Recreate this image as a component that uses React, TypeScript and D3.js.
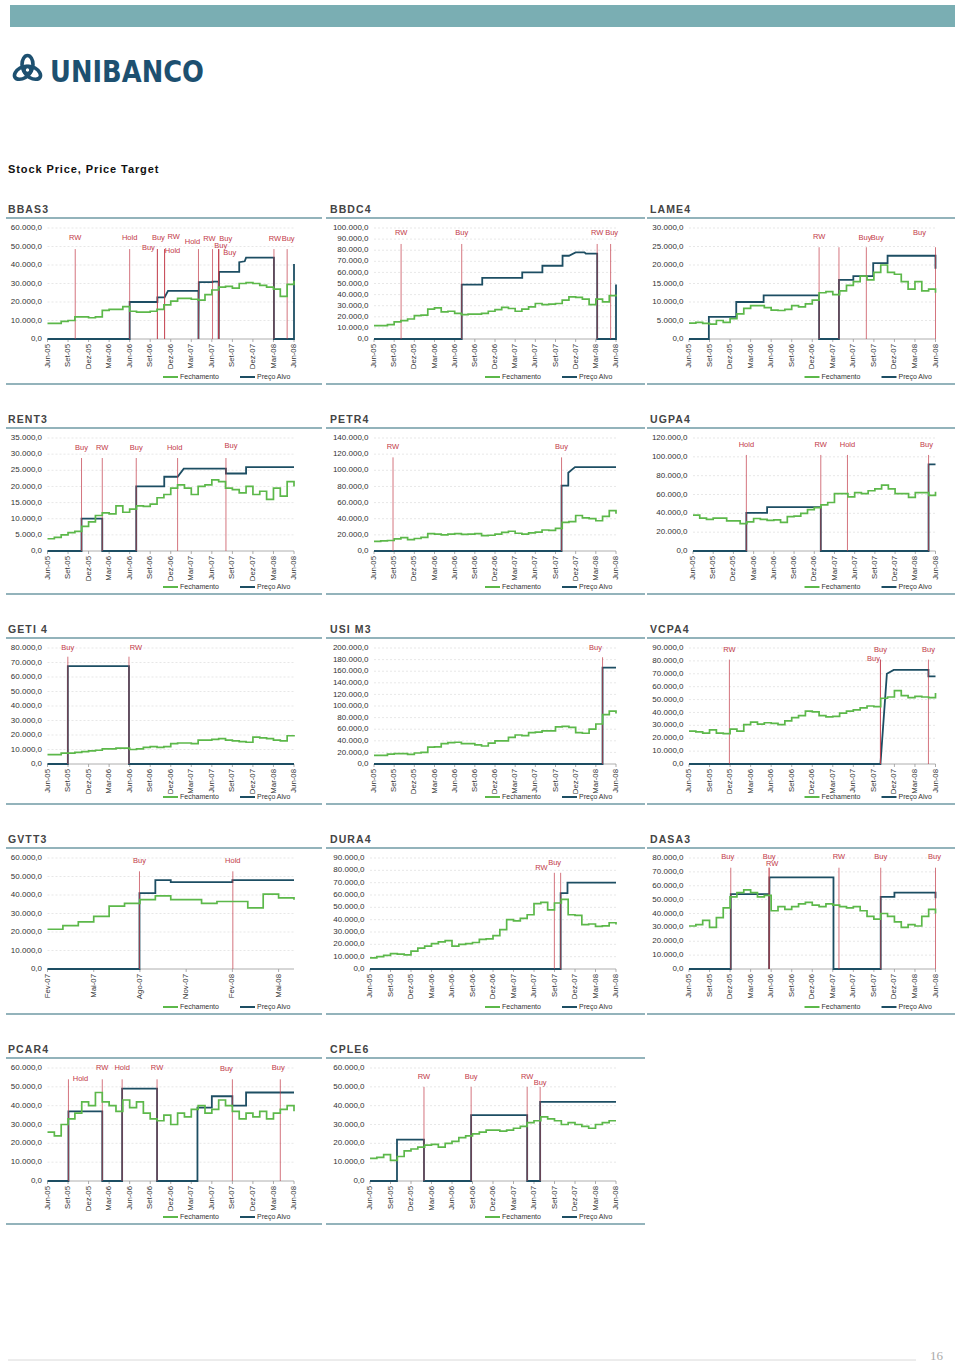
import React from "react";
import * as d3 from "d3";

// ---------- axis tick labels ----------
const QUARTER_TICKS = ["Jun-05","Set-05","Dez-05","Mar-06","Jun-06","Set-06","Dez-06","Mar-07","Jun-07","Set-07","Dez-07","Mar-08","Jun-08"];
const GVTT_TICKS = ["Fev-07","Mai-07","Ago-07","Nov-07","Fev-08","Mai-08"];
const LEGEND = ["Fechamento", "Preço Alvo"];

// ---------- data (values in thousands, month index from first tick) ----------
const bbas3Close = [8.5,8.5,9.5,10,12,12,11.5,12,15.5,16,16,17.5,15,14.5,14.5,15,16,18.5,20.5,22,22,21.5,21,24,26.5,28,28.5,27.5,30,30.5,30,29,28,27,23,29.5,31.5];
const bbas3Target = [[0,0],[12,0],[12,20],[16.05,20],[16.05,22.5],[17.1,22.5],[17.6,26],[22.05,26],[22.05,0],[22.1,30.7],[24.1,30.7],[24.1,31],[25,31],[25,0],[25.05,36.3],[28,36.3],[28,41.5],[28.8,42],[29,44],[33.07,44],[33.07,0],[36,0],[36,40.5]];
const bbas3Events = [
  { m: 4.05, label: "RW", dx: 0, dy: -11 },
  { m: 12, label: "Hold", dx: 0, dy: -11 },
  { m: 16.05, label: "Buy", dx: 1, dy: -11 },
  { m: 16.05, label: "Buy", dx: -9, dy: -1 },
  { m: 17.1, label: "RW", dx: 9, dy: -12 },
  { m: 17.1, label: "Hold", dx: 8, dy: 1.5 },
  { m: 22.05, label: "Hold", dx: -6, dy: -7.5 },
  { m: 24.1, label: "RW", dx: -3, dy: -10 },
  { m: 25, label: "Buy", dx: 7, dy: -10 },
  { m: 25, label: "Buy", dx: 2, dy: -2.7 },
  { m: 25, label: "Buy", dx: 11, dy: 4 },
  { m: 33.07, label: "RW", dx: 1, dy: -10 },
  { m: 35, label: "Buy", dx: 1, dy: -10 },
];

const bbdc4Close = [12,12,13,15.5,16.5,18,21,21.5,27,28,24.5,25,23,22,22.5,22.5,23,25,26.5,28.5,27.5,25,27,29,32,31,31.5,32,35,38,37.5,36,31,36,33.5,39,40];
const bbdc4Target = [[0,0],[13.05,0],[13.05,49],[16.1,49],[16.1,55],[22.05,55],[22.05,60],[25.05,60],[25.05,66],[28.05,66],[28.05,75],[29,75],[30,78],[31.3,78],[31.5,77],[33.2,77],[33.2,0],[36,0],[36,49]];
const bbdc4Events = [
  { m: 4.03, label: "RW", dx: 0, dy: -11 },
  { m: 13.05, label: "Buy", dx: 0, dy: -11 },
  { m: 33.2, label: "RW", dx: 0, dy: -11 },
  { m: 35.2, label: "Buy", dx: 1, dy: -11 },
];

const lame4Close = [4.3,4.5,4.2,4.0,5.0,4.5,5.5,6.8,8.3,9,9,8.5,7.8,7.7,8,9,8.7,9.5,10.5,12.5,12.8,12,13,14.5,15.5,17,16,18,20,18,17.5,15.5,13.5,15.5,13,13.5,12.5];
const lame4Target = [[0,0],[2.9,0],[2.9,6],[6.9,6],[6.9,10],[10.9,10],[10.9,11.8],[19,11.8],[19,0],[21.9,0],[21.9,16],[24,16],[24,17],[26.9,17],[26.9,20.5],[29,20.5],[29,22.5],[36,22.5],[36,19]];
const lame4Events = [
  { m: 19, label: "RW", dx: 0, dy: -10 },
  { m: 21.9, label: "Buy", dx: 26, dy: -9 },
  { m: 25.9, label: "Buy", dx: 11, dy: -9 },
  { m: 36, label: "Buy", dx: -16, dy: -14 },
];

const rent3Close = [3.8,4.2,5,5.7,6.1,7.6,9,11,11.8,11.5,14,12,13,14,13.8,14.5,16.5,17.5,19.5,20.5,19.5,17.5,20,20.5,22,21.5,19.5,19,18,20,17.5,18.5,16,19.5,17,21.5,20];
const rent3Target = [[0,0],[4.97,0],[4.97,10],[8,10],[8,0],[12.96,0],[12.96,20],[17.05,20],[17.05,23],[19,23],[19.9,25.5],[26.06,25.5],[26.06,24],[29,24],[29,26],[36,26]];
const rent3Events = [
  { m: 4.97, label: "Buy", dx: 0, dy: -10 },
  { m: 8, label: "RW", dx: 0, dy: -10 },
  { m: 12.96, label: "Buy", dx: 0, dy: -10 },
  { m: 19, label: "Hold", dx: -3, dy: -10 },
  { m: 26.06, label: "Buy", dx: 5, dy: -12 },
];

const petr4Close = [12,12.5,13,15,16.5,14,15.5,17,21.5,21,20,21,21.5,20.5,21,21.5,19,19.5,21,23,24.5,22,21,22.5,23.5,26,25.5,28,35.5,36.5,44,41,40,37.5,43,50,46];
const petr4Target = [[0,0],[27.9,0],[27.9,81],[28.9,81],[28.9,97],[29.9,104],[36,104]];
const petr4Events = [
  { m: 2.83, label: "RW", dx: 0, dy: -10 },
  { m: 27.9, label: "Buy", dx: 0, dy: -10 },
];

const ugpa4Close = [38,35,33.5,35,35,32,32,29,31,34.5,33.5,32.5,33,30.5,36.5,37,40,44,46,49,51.5,61,61,57.5,62,61,64,66,70,66,61,61,57,62,62,59,63];
const ugpa4Target = [[0,0],[7.92,0],[7.92,40.5],[11,40.5],[11,46.5],[18.97,46.5],[18.97,0],[34.97,0],[34.97,92],[36,92]];
const ugpa4Events = [
  { m: 7.92, label: "Hold", dx: 0, dy: -10 },
  { m: 18.97, label: "RW", dx: 0, dy: -10 },
  { m: 22.93, label: "Hold", dx: 0, dy: -10 },
  { m: 34.97, label: "Buy", dx: -2, dy: -10 },
];

const geti4Close = [6.5,6.5,7.5,7.5,8,8.5,9,9.5,10.5,10.5,11,11,10,10.5,11.5,12,11.5,12,14,14.5,14.5,14,16.5,16.5,17,17.5,16.5,16,15.5,15,18.5,18,17.5,16.5,16,19.5,19];
const geti4Target = [[0,0],[2.97,0],[2.97,67.5],[11.9,67.5],[11.9,0],[36,0]];
const geti4Events = [
  { m: 2.97, label: "Buy", dx: 0, dy: -8.5 },
  { m: 11.9, label: "RW", dx: 7, dy: -8.5 },
];

const usim3Close = [15,15,17,18,18,16.5,19,20,29,29.5,35,37,37.5,35,35,33,31,36,40,40,46,50,49,54,55,57,57,64,65,63,54,53,60,69,85,91,87];
const usim3Target = [[0,0],[34,0],[34,166],[36,166]];
const usim3Events = [
  { m: 34, label: "Buy", dx: -7, dy: -9.5 },
];

const vcpa4Close = [25.5,25,24,26.5,24,23.5,27,25.5,30.5,32.5,31,32,31.5,30.5,33.5,36,37.5,41,40.5,37.5,36.5,37,39.5,41,42,43.5,45,44.5,51,52,57,53,51.5,52.5,52,51.5,55];
const vcpa4Target = [[0,0],[27.96,0],[28.9,70],[29.9,73],[34.97,73],[34.97,68],[36,68]];
const vcpa4Events = [
  { m: 5.9, label: "RW", dx: 0, dy: -10 },
  { m: 27.96, label: "Buy", dx: 0, dy: -10 },
  { m: 27.96, label: "Buy", dx: -7, dy: -0.5 },
  { m: 34.97, label: "Buy", dx: 0, dy: -10 },
];

const gvtt3Close = [21.5,23.5,25.5,28.5,34,35.5,37.5,39.5,37.5,37.5,35.5,36.5,36.5,33,40.5,38.5,37.5];
const gvtt3Target = [[0,0],[5.97,0],[5.97,41],[7,41],[7,48],[8,48],[8,47],[12,47],[12,48],[16,48]];
const gvtt3Events = [
  { m: 5.97, label: "Buy", dx: 0, dy: -10.5 },
  { m: 12.03, label: "Hold", dx: 0, dy: -10.5 },
];

const dura4Close = [9,10,11,12.5,12,11.5,14.5,17,18.5,20.5,22,23,18.5,20,20.5,21.5,24,24.5,27,32,40,39,41,44,53,54,48,53.5,56.5,44,43.5,36,36.5,34.5,35,37.5,36];
const dura4Target = [[0,0],[27.9,0],[27.9,61.5],[28.9,61.5],[28.9,70],[36,70]];
const dura4Events = [
  { m: 26.98, label: "RW", dx: -13, dy: -4.3 },
  { m: 27.9, label: "Buy", dx: -6, dy: -10 },
];

const dasa3Close = [31,32,35,30,37,44,52,55,57,55,52,53,42,45,43,45,47,48,46,45,47,46,45,44,45,42,38,36,40,38,34,30,32,31,38,43,40];
const dasa3Target = [[0,0],[6.1,0],[6.1,54],[11.7,54],[11.7,0],[11.75,66],[21.1,66],[21.1,0],[28,0],[28,52],[30,52],[30,55],[36,55],[36,51]];
const dasa3Events = [
  { m: 6.1, label: "Buy", dx: -3, dy: -11 },
  { m: 11.7, label: "Buy", dx: 0, dy: -11 },
  { m: 11.7, label: "RW", dx: 3, dy: -3.5 },
  { m: 21.9, label: "RW", dx: 0, dy: -11 },
  { m: 28, label: "Buy", dx: 0, dy: -11 },
  { m: 36, label: "Buy", dx: -1, dy: -11 },
];

const pcar4Close = [26,24,30,33,36,42,40,47,42,40,37,43,39,42,36,33,32,35,30,36,34,38,40,36,38,43,40,37,33,36,34,37,33,36,38,40,37];
const pcar4Target = [[0,0],[3.06,0],[3.06,37],[8,37],[8,0],[10.9,0],[10.9,49],[16,49],[16,0],[21.9,0],[21.9,39],[24,39],[24,45],[27,45],[27,40],[29,40],[29,47],[36,47]];
const pcar4Events = [
  { m: 3.06, label: "Hold", dx: 12, dy: 0 },
  { m: 8, label: "RW", dx: 0, dy: -11 },
  { m: 10.9, label: "Hold", dx: 0, dy: -11 },
  { m: 16, label: "RW", dx: 0, dy: -11 },
  { m: 27, label: "Buy", dx: -6, dy: -10 },
  { m: 34, label: "Buy", dx: -2, dy: -11 },
];

const cple6Close = [12,12.5,14,11,13,16,17,18,19,19.5,18,20,21,23,24,25,26,27,27,26.5,27,28,29,31,32,34,33,32,30,31,30,29,28,30,31,32,32];
const cple6Target = [[0,0],[3.95,0],[3.95,22],[7.9,22],[7.9,0],[14.8,0],[14.8,35],[23,35],[23,0],[24.9,0],[24.9,42],[36,42]];
const cple6Events = [
  { m: 7.9, label: "RW", dx: 0, dy: -10 },
  { m: 14.8, label: "Buy", dx: 0, dy: -10 },
  { m: 23, label: "RW", dx: 0, dy: -10 },
  { m: 24.9, label: "Buy", dx: 0, dy: -4 },
];

// ---------- panel definitions ----------
const PANELS = [
  { title: "BBAS3", col: 0, row: 0, yMax: 60, yStep: 10, eventTop: 48.6, close: bbas3Close, target: bbas3Target, events: bbas3Events, ticks: QUARTER_TICKS, span: 36 },
  { title: "BBDC4", col: 1, row: 0, yMax: 100, yStep: 10, eventTop: 85.6, close: bbdc4Close, target: bbdc4Target, events: bbdc4Events, ticks: QUARTER_TICKS, span: 36 },
  { title: "LAME4", col: 2, row: 0, yMax: 30, yStep: 5, eventTop: 24.8, close: lame4Close, target: lame4Target, events: lame4Events, ticks: QUARTER_TICKS, span: 36 },
  { title: "RENT3", col: 0, row: 1, yMax: 35, yStep: 5, eventTop: 28.8, close: rent3Close, target: rent3Target, events: rent3Events, ticks: QUARTER_TICKS, span: 36 },
  { title: "PETR4", col: 1, row: 1, yMax: 140, yStep: 20, eventTop: 116, close: petr4Close, target: petr4Target, events: petr4Events, ticks: QUARTER_TICKS, span: 36 },
  { title: "UGPA4", col: 2, row: 1, yMax: 120, yStep: 20, eventTop: 102, close: ugpa4Close, target: ugpa4Target, events: ugpa4Events, ticks: QUARTER_TICKS, span: 36 },
  { title: "GETI 4", col: 0, row: 2, yMax: 80, yStep: 10, eventTop: 74, close: geti4Close, target: geti4Target, events: geti4Events, ticks: QUARTER_TICKS, span: 36 },
  { title: "USI M3", col: 1, row: 2, yMax: 200, yStep: 20, eventTop: 184, close: usim3Close, target: usim3Target, events: usim3Events, ticks: QUARTER_TICKS, span: 36 },
  { title: "VCPA4", col: 2, row: 2, yMax: 90, yStep: 10, eventTop: 81, close: vcpa4Close, target: vcpa4Target, events: vcpa4Events, ticks: QUARTER_TICKS, span: 36 },
  { title: "GVTT3", col: 0, row: 3, yMax: 60, yStep: 10, eventTop: 52.8, close: gvtt3Close, target: gvtt3Target, events: gvtt3Events, ticks: GVTT_TICKS, span: 16 },
  { title: "DURA4", col: 1, row: 3, yMax: 90, yStep: 10, eventTop: 78, close: dura4Close, target: dura4Target, events: dura4Events, ticks: QUARTER_TICKS, span: 36 },
  { title: "DASA3", col: 2, row: 3, yMax: 80, yStep: 10, eventTop: 73, close: dasa3Close, target: dasa3Target, events: dasa3Events, ticks: QUARTER_TICKS, span: 36 },
  { title: "PCAR4", col: 0, row: 4, yMax: 60, yStep: 10, eventTop: 54, close: pcar4Close, target: pcar4Target, events: pcar4Events, ticks: QUARTER_TICKS, span: 36 },
  { title: "CPLE6", col: 1, row: 4, yMax: 60, yStep: 10, eventTop: 50, close: cple6Close, target: cple6Target, events: cple6Events, ticks: QUARTER_TICKS, span: 36 },
];

// ---------- layout ----------
const COLS = [
  { titleX: 8, plotLeft: 47.5, plotRight: 294, ruleX0: 6, ruleX1: 322 },
  { titleX: 330, plotLeft: 370, plotRight: 616, ruleX0: 326, ruleX1: 645 },
  { titleX: 650, plotLeft: 689, plotRight: 935.5, ruleX0: 647, ruleX1: 955 },
];
const ROWS = [
  { titleY: 210, plotH: 111 },
  { titleY: 420, plotH: 113 },
  { titleY: 630, plotH: 116 },
  { titleY: 840, plotH: 111 },
  { titleY: 1050, plotH: 113 },
];

const FONT = "'Liberation Sans', Arial, Helvetica, sans-serif";
const GREEN = "#5cb84a";
const NAVY = "#1d4e63";
const RED = "#c23a48";
const RULE = "#6f9aa4";
const TEXT = "#333";

const ptBR = d3.formatLocale({ decimal: ",", thousands: ".", grouping: [3], currency: ["", ""] });
const fmt = ptBR.format(",.1f");

function Panel({ p }: { p: any }) {
  const col = COLS[p.col];
  const row = ROWS[p.row];
  const wide = fmt(p.yMax * 1000).length > 8;
  const left = col.plotLeft + (wide ? 4 : 0);
  const right = col.plotRight;
  const top = row.titleY + 18;
  const bottom = top + row.plotH;
  const x = d3.scaleLinear().domain([0, p.span]).range([left, right]);
  const y = d3.scaleLinear().domain([0, p.yMax]).range([bottom, top]);
  const yTicks = d3.range(0, p.yMax + p.yStep / 2, p.yStep);
  const closeLine = d3.line<number>().x((_, i) => x(i)).y((d) => y(d)).curve(d3.curveStepAfter);
  const targetLine = d3.line<number[]>().x((d) => x(d[0])).y((d) => y(d[1]));
  const legendY = row.titleY + 167;
  return (
    <g>
      <text x={col.titleX} y={row.titleY} dominantBaseline="middle" fontSize={10.5} fontWeight="bold" letterSpacing={1.1} fill="#444">{p.title}</text>
      <line x1={col.ruleX0} x2={col.ruleX1} y1={row.titleY + 8} y2={row.titleY + 8} stroke={RULE} strokeWidth={1.5} />
      <line x1={col.ruleX0} x2={col.ruleX1} y1={row.titleY + 174} y2={row.titleY + 174} stroke={RULE} strokeWidth={1.5} />
      {yTicks.map((t) => (
        <g key={t}>
          {t > 0 && <line x1={left} x2={right} y1={y(t)} y2={y(t)} stroke="#d6d6d6" strokeWidth={0.6} strokeDasharray="2,2" />}
          <text x={left - 5.5} y={y(t)} textAnchor="end" dominantBaseline="middle" fontSize={8} fill={TEXT}>{fmt(t * 1000)}</text>
        </g>
      ))}
      <line x1={left} x2={right} y1={bottom} y2={bottom} stroke="#999" strokeWidth={0.8} />
      {p.ticks.map((lab: string, i: number) => {
        const tx = x(i * 3);
        return (
          <g key={lab + i}>
            <line x1={tx} x2={tx} y1={bottom} y2={bottom + 3} stroke="#999" strokeWidth={0.8} />
            <text transform={`translate(${tx},${bottom + 5}) rotate(-90)`} textAnchor="end" dominantBaseline="middle" fontSize={7.8} fill={TEXT}>{lab}</text>
          </g>
        );
      })}
      <path d={targetLine(p.target) || ""} fill="none" stroke={NAVY} strokeWidth={1.8} strokeLinejoin="miter" />
      {p.events.map((e: any, i: number) => (
        <line key={"l" + i} x1={x(e.m)} x2={x(e.m)} y1={bottom} y2={y(p.eventTop)} stroke={RED} strokeOpacity={0.7} strokeWidth={1} />
      ))}
      {p.events.map((e: any, i: number) => (
        <text key={"t" + i} x={x(e.m) + e.dx} y={y(p.eventTop) + e.dy} textAnchor="middle" dominantBaseline="middle" fontSize={7.5} fill={RED}>{e.label}</text>
      ))}
      <path d={closeLine(p.close) || ""} fill="none" stroke={GREEN} strokeWidth={1.7} />
      <line x1={right - 131} x2={right - 116} y1={legendY} y2={legendY} stroke={GREEN} strokeWidth={2} />
      <text x={right - 114} y={legendY} dominantBaseline="middle" fontSize={7} fill={TEXT}>{LEGEND[0]}</text>
      <line x1={right - 54} x2={right - 39} y1={legendY} y2={legendY} stroke={NAVY} strokeWidth={2} />
      <text x={right - 37} y={legendY} dominantBaseline="middle" fontSize={7} fill={TEXT}>{LEGEND[1]}</text>
    </g>
  );
}

function Logo() {
  const cx = 27.5, cy = 70;
  return (
    <g>
      {[0, 120, 240].map((a) => (
        <ellipse key={a} cx={0} cy={-5.5} rx={5.5} ry={9} fill="none" stroke="#1d5070" strokeWidth={3.6}
          transform={`translate(${cx},${cy}) rotate(${a})`} />
      ))}
      <text x={50} y={82} fontSize={30} fontWeight="bold" fill="#1d5070" textLength={154} lengthAdjust="spacingAndGlyphs" fontFamily="'DejaVu Sans', 'Liberation Sans', sans-serif">UNIBANCO</text>
    </g>
  );
}

export default function App() {
  return (
    <svg width={960} height={1367} style={{ position: "absolute", left: 0, top: 0, display: "block", background: "#fff" }} fontFamily={FONT}>
      <rect x={10} y={5} width={945} height={22} fill="#7aaeb3" />
      <Logo />
      <text x={8} y={173} fontSize={11} fontWeight="bold" letterSpacing={0.9} fill="#111">Stock Price, Price Target</text>
      {PANELS.map((p) => <Panel key={p.title} p={p} />)}
      <line x1={8} x2={916} y1={1360} y2={1360} stroke="#d0d0d0" strokeWidth={0.8} />
      <text x={930} y={1360} fontSize={13} fill="#aaa" fontFamily="'Liberation Serif', serif">16</text>
    </svg>
  );
}
